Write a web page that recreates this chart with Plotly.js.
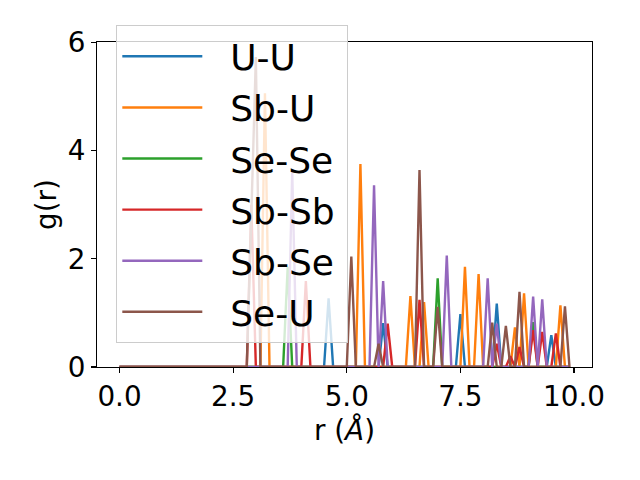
<!DOCTYPE html>
<html>
<head>
<meta charset="utf-8">
<script src="https://cdn.plot.ly/plotly-3.0.1.min.js"></script>
<style>html,body{margin:0;padding:0;background:#fff;}#chart{width:640px;height:480px;}</style>
</head>
<body>
<div id="chart"></div>
<script>
var r = [0.0,0.1,0.2,0.3,0.4,0.5,0.6,0.7,0.8,0.9,
 1.0,1.1,1.2,1.3,1.4,1.5,1.6,1.7,1.8,1.9,
 2.0,2.1,2.2,2.3,2.4,2.5,2.6,2.7,2.8,2.9,
 3.0,3.1,3.2,3.3,3.4,3.5,3.6,3.7,3.8,3.9,
 4.0,4.1,4.2,4.3,4.4,4.5,4.6,4.7,4.8,4.9,
 5.0,5.1,5.2,5.3,5.4,5.5,5.6,5.7,5.8,5.9,
 6.0,6.1,6.2,6.3,6.4,6.5,6.6,6.7,6.8,6.9,
 7.0,7.1,7.2,7.3,7.4,7.5,7.6,7.7,7.8,7.9,
 8.0,8.1,8.2,8.3,8.4,8.5,8.6,8.7,8.8,8.9,
 9.0,9.1,9.2,9.3,9.4,9.5,9.6,9.7,9.8,9.9];

var gUU = [0,0,0,0,0,0,0,0,0,0,
 0,0,0,0,0,0,0,0,0,0,
 0,0,0,0,0,0,0,0,0,0,
 0,0,0,0,0,0,0,0,0,0,
 0,0,0,0,0,0,1.27,0,0,0,
 0,0,0,0,0,0,0,0,0.81,0,
 0,0,0,0,0,0,0,0,0,0,
 0,0,0,0,0,0.98,0,0,0,0,
 0,0,0,1.17,0,0,0,0,0,0,
 0,0,0,0,0,0.59,0,0,0,0];

var gSbU = [0,0,0,0,0,0,0,0,0,0,
 0,0,0,0,0,0,0,0,0,0,
 0,0,0,0,0,0,0,0,0,0,
 0,0,5.06,0,0,0,0,0,0,0,
 0,0,0,0,0,0,0,0,0,0,
 0,0,0,3.75,0,0,0,0,0,0,
 0,0,0,0,1.31,0,0,1.20,0,0,
 0,0,0,0,0,0,1.85,0,0,1.72,
 0,0,0,0,0,0,0,0.73,0,1.36,
 0,0,0,0,0,0,0,1.14,0,0];

var gSeSe = [0,0,0,0,0,0,0,0,0,0,
 0,0,0,0,0,0,0,0,0,0,
 0,0,0,0,0,0,0,0,0,0,
 0,0,0,0,0,0,0,1.85,0,0,
 0,0,0,0,0,0,0,0,0,0,
 0,0,0,0,0,0,0,0,0,0,
 0,0,0,0,0,0,0,0,0,0,
 1.64,0,0,0,0,0,0,0,0,0,
 0,0,0,0,0,0,0,0,0,0,
 0,0.83,0,0,0,0,0,0,0,0];

var gSbSb = [0,0,0,0,0,0,0,0,0,0,
 0,0,0,0,0,0,0,0,0,0,
 0,0,0,0,0,0,0,0,0,3.0,
 0,0,0,0,0,0,0,0,0,0,
 0,1.59,0,0,0,0,0,0,0,0,
 0,0,0,0,0,0,0,0,0,0.80,
 0,0,0,0,0,0,1.24,0,0,0,
 0,0,0,0,0,0,0,0,0,0,
 0,0,0,0.43,0,0,0.20,0,0.37,0,
 0,0.68,0,0.65,0,0,0.62,0,0,0];

var gSbSe = [0,0,0,0,0,0,0,0,0,0,
 0,0,0,0,0,0,0,0,0,0,
 0,0,0,0,0,0,0,0,0,0,
 0,0,0,0,0,0,0,0,3.61,0,
 0,0,0,0,0,0,0,0,0,0,
 0,0,0,0,0,0,3.36,0,1.59,0,
 0,0,0,0,0,0,0,0,0,0,
 0,0,2.06,0,0,0,0,0,0,0,
 0,1.64,0,0.80,0,0,0,0,0,0,
 0,1.30,0,1.25,0,0,0,0,0,0];

var gSeU = [0,0,0,0,0,0,0,0,0,0,
 0,0,0,0,0,0,0,0,0,0,
 0,0,0,0,0,0,0,0,0,2.8,
 5.73,0,0,0,0,0,0,0,0,0,
 0,0,0,0,0,0,0,0,0,0,
 0,2.04,0,0,0,0,0,0.43,0,0,
 0,0,0,0,0,0,3.64,0,0,0,
 1.11,0,0,0,0,0,0,0,0,0,
 0,0,0.82,0,0,0.76,0,0,1.39,0,
 0,0,0,0,0,0,0,0,1.12,0];

var names = ['U-U','Sb-U','Se-Se','Sb-Sb','Sb-Se','Se-U'];
var series = [gUU, gSbU, gSeSe, gSbSb, gSbSe, gSeU];
var colors = ['#1f77b4','#ff7f0e','#2ca02c','#d62728','#9467bd','#8c564b'];
var xTicks = [0, 2.5, 5, 7.5, 10];
var xTickText = ['0.0','2.5','5.0','7.5','10.0'];
var yTicks = [0, 2, 4, 6];
var yTickText = ['0','2','4','6'];

var traces = series.map(function(s, i){
  return {x: r, y: s, type: 'scatter', mode: 'lines',
    name: '\u00a0\u00a0' + names[i] + '\u2009',
    legendgroup: 'g' + i,
    line: {color: colors[i], width: 2.4}};
});

var F = 'DejaVu Sans, sans-serif';
var layout = {
  width: 640, height: 480,
  paper_bgcolor: '#ffffff', plot_bgcolor: '#ffffff',
  margin: {l: 97, r: 48, t: 42, b: 113, pad: 0},
  font: {family: F, size: 27.8, color: '#000'},
  showlegend: true,
  legend: {x: 0.039, y: 1.051, xanchor: 'left', yanchor: 'top',
    bgcolor: 'rgba(255,255,255,0.8)', bordercolor: '#cccccc', borderwidth: 1,
    font: {family: F, size: 36, color: '#000'}, itemwidth: 80,
    tracegroupgap: 1.3, traceorder: 'grouped', maxheight: 460},
  xaxis: {range: [-0.495, 10.395], tickvals: xTicks, ticktext: xTickText,
    ticks: 'outside', ticklen: 5, tickwidth: 1.1, tickcolor: '#000',
    showline: true, mirror: true, linecolor: '#000', linewidth: 1.1,
    showgrid: false, zeroline: false,
    tickfont: {family: F, size: 27.8, color: '#000'},
    title: {text: 'r (<i>Å</i>)', font: {family: F, size: 27.8, color: '#000'}, standoff: 8}},
  yaxis: {range: [0, 6.007], tickvals: yTicks, ticktext: yTickText,
    ticks: 'outside', ticklen: 5, tickwidth: 1.1, tickcolor: '#000',
    showline: true, mirror: true, linecolor: '#000', linewidth: 1.1,
    showgrid: false, zeroline: false,
    tickfont: {family: F, size: 27.8, color: '#000'},
    title: {text: 'g(r)', font: {family: F, size: 27.8, color: '#000'}, standoff: 2}}
};

Plotly.newPlot('chart', traces, layout, {displayModeBar: false, staticPlot: true});
</script>
</body>
</html>
